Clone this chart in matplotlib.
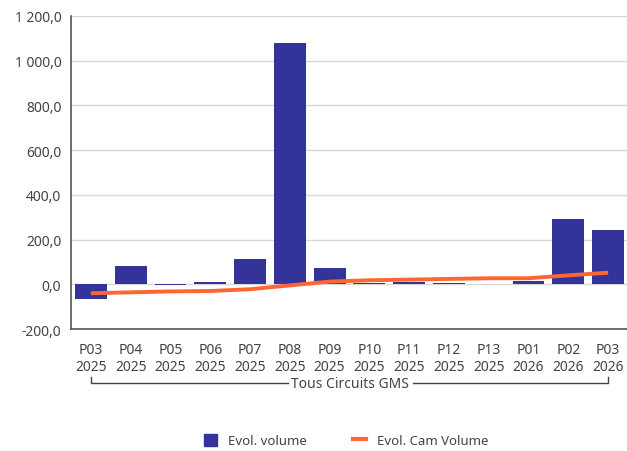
import matplotlib.pyplot as plt
from matplotlib.ticker import FuncFormatter
from matplotlib.transforms import blended_transform_factory
from matplotlib.lines import Line2D
from matplotlib.patches import Patch

periods = ["P03", "P04", "P05", "P06", "P07", "P08", "P09",
           "P10", "P11", "P12", "P13", "P01", "P02", "P03"]
years = ["2025"] * 11 + ["2026"] * 3
evol_volume = [-65, 80, -4, 9, 112, 1078, 72, 7, 8, 5, 3, 16, 291, 242]
evol_cam_volume = [-40, -36, -32, -30, -22, -5, 12, 18, 21, 24, 27, 27, 40, 52]
group_label = "Tous Circuits GMS"

plt.rcParams["font.family"] = ["Noto Sans", "DejaVu Sans"]
bar_color = "#333399"
line_color = "#FF6633"
text_color = "#444444"

fig = plt.figure(figsize=(6.27, 4.52), dpi=100)
ax = fig.add_axes([71 / 627, 1 - 330 / 452, 557 / 627, 313 / 452])

x = list(range(len(periods)))
ax.bar(x, evol_volume, width=0.8, color=bar_color, zorder=2)
ax.plot(x, evol_cam_volume, color=line_color, linewidth=2.8, zorder=3,
        solid_capstyle="butt")

ax.set_ylim(-200, 1200)
ax.set_xlim(-0.5, len(periods) - 0.5)
ax.set_yticks(range(-200, 1201, 200))
ax.yaxis.set_major_formatter(FuncFormatter(
    lambda v, p: f"{v:,.1f}".replace(",", " ").replace(".", ",")))
ax.grid(axis="y", color="#d9d9d9", linewidth=1, zorder=0)
ax.set_axisbelow(True)

ax.set_xticks(x)
ax.set_xticklabels([f"{p}\n{y}" for p, y in zip(periods, years)],
                   linespacing=1.25)
ax.tick_params(axis="both", length=0, labelsize=10, colors=text_color, pad=7)
ax.tick_params(axis="x", pad=9)

for s in ["top", "right"]:
    ax.spines[s].set_visible(False)
for s in ["left", "bottom"]:
    ax.spines[s].set_color("#555555")
    ax.spines[s].set_linewidth(1.2)

# category bracket under the tick labels
tr = blended_transform_factory(ax.transData, ax.transAxes)
y_line, y_top = -0.1735, -0.153
ax.plot([0, 0, 4.95], [y_top, y_line, y_line], color="#444444",
        linewidth=1, transform=tr, clip_on=False)
ax.plot([8.1, 13.0, 13.0], [y_line, y_line, y_top], color="#444444",
        linewidth=1, transform=tr, clip_on=False)
ax.text(6.5, y_line, group_label, transform=tr, ha="center", va="center",
        fontsize=10, color=text_color)

handles = [Patch(color=bar_color, label="Evol. volume"),
           Line2D([0], [0], color=line_color, linewidth=3, label="Evol. Cam Volume")]
fig.legend(handles=handles, loc="lower center", bbox_to_anchor=(0.552, -0.018),
           ncol=2, frameon=False, fontsize=9.5, handlelength=1.0,
           handleheight=1.0, columnspacing=3.5, labelcolor=text_color)

fig.savefig("out.png", dpi=100)
